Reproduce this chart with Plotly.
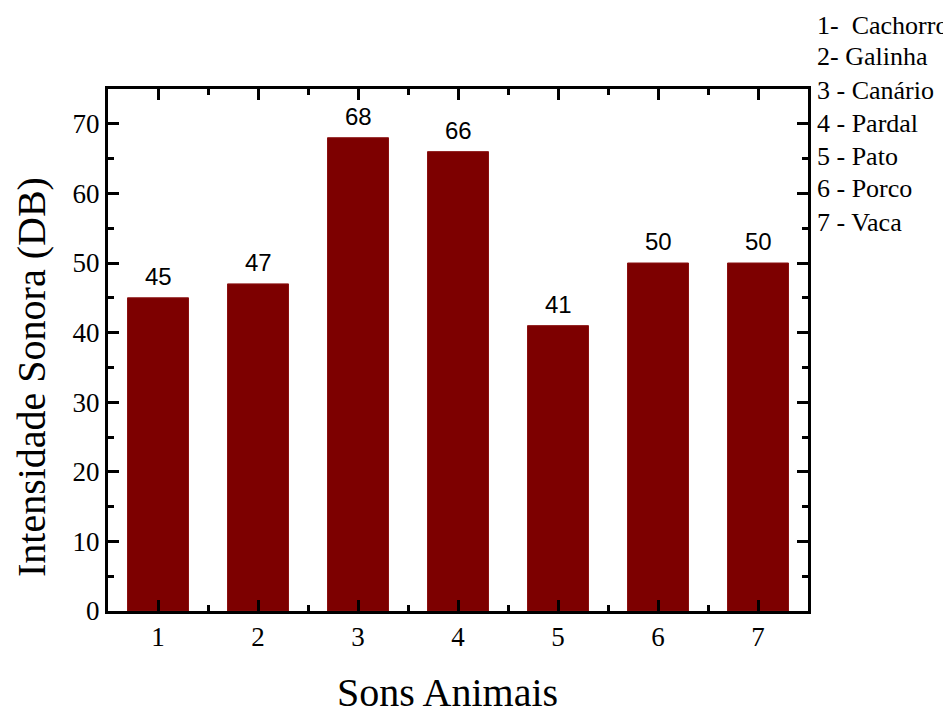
import plotly.graph_objects as go

categories = [1, 2, 3, 4, 5, 6, 7]
values = [45, 47, 68, 66, 41, 50, 50]
legend_lines = ["1-\u00a0 Cachorro", "2- Galinha", "3 - Canário", "4 - Pardal",
                "5 - Pato", "6 - Porco", "7 - Vaca"]
x_title = "Sons Animais"
y_title = "Intensidade Sonora (DB)"

OFF = 8  # page body offset
W, H = 951 - OFF, 711 - OFF
PL, PR, PT, PB = 108, 808, 89, 611  # plot area in page pixels
L, R, T, B = PL - OFF, W - (PR - OFF), PT - OFF, H - (PB - OFF)
plot_w, plot_h = PR - PL, PB - PT


def px(xp):
    return (xp - PL) / plot_w


def py(yp):
    return (PB - yp) / plot_h


fig = go.Figure()
fig.add_trace(go.Bar(
    x=categories, y=values, width=0.61,
    marker=dict(color="#7d0000", line=dict(color="#8a1010", width=1)),
))

for c, v in zip(categories, values):
    fig.add_annotation(
        x=c, y=v, text=str(v), showarrow=False, yanchor="bottom", yshift=6,
        font=dict(family="Liberation Sans, Arial", size=24, color="black"),
    )

serif = "Liberation Serif, Times New Roman, serif"
axis_common = dict(
    showline=True, linecolor="black", linewidth=3, mirror="ticks",
    ticks="inside", ticklen=11, tickwidth=3, tickcolor="black",
    showgrid=False, zeroline=False,
    tickfont=dict(family=serif, size=27, color="black"),
)

fig.update_xaxes(
    range=[0.5, 7.5], tickmode="array", tickvals=categories,
    ticktext=[str(c) for c in categories],
    minor=dict(ticks="inside", ticklen=6, tickwidth=3, tickcolor="black",
               tick0=0.5, dtick=1, showgrid=False),
    **axis_common,
)
fig.update_yaxes(
    range=[0, 75], tick0=0, dtick=10,
    minor=dict(ticks="inside", ticklen=6, tickwidth=3, tickcolor="black",
               tick0=0, dtick=5, showgrid=False),
    **axis_common,
)

fig.add_annotation(
    text=x_title, xref="paper", yref="paper", x=px(447), y=py(692),
    xanchor="center", yanchor="middle", showarrow=False,
    font=dict(family=serif, size=40, color="black"),
)
fig.add_annotation(
    text=y_title, xref="paper", yref="paper", x=px(31), y=py(377),
    xanchor="center", yanchor="middle", showarrow=False, textangle=-90,
    font=dict(family=serif, size=40, color="black"),
)

legend_centers_px = [25, 57, 90, 123, 156, 189, 222]
for txt, yc in zip(legend_lines, legend_centers_px):
    fig.add_annotation(
        text=txt, xref="paper", yref="paper",
        x=px(815), y=py(yc),
        xanchor="left", yanchor="middle", showarrow=False,
        font=dict(family=serif, size=26, color="black"),
    )

fig.update_layout(
    width=W, height=H,
    margin=dict(l=L, r=R, t=T, b=B),
    plot_bgcolor="white", paper_bgcolor="white",
    showlegend=False,
)

fig.write_html("out.html")
